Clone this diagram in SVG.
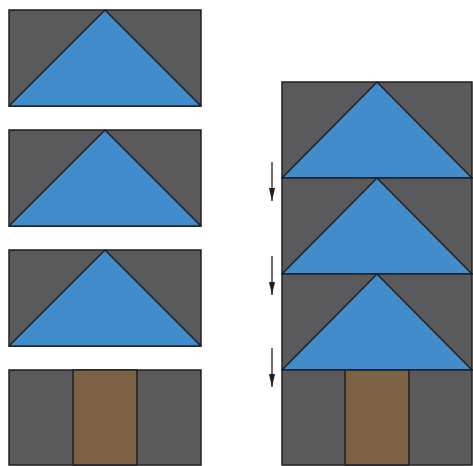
<svg xmlns="http://www.w3.org/2000/svg" width="473" height="466" viewBox="0 0 473 466">
<defs>
<style>
.g{fill:#5a5a5c;stroke:#231f20;stroke-width:1.5}
.b{fill:#418ccb;stroke:#231f20;stroke-width:1.5;stroke-linejoin:round}
.t{fill:#7d6145;stroke:#231f20;stroke-width:1.5}
.a{stroke:#231f20;stroke-width:1.3;fill:none}
</style>
<marker id="ah" viewBox="0 0 10 10" refX="10" refY="5" markerWidth="13" markerHeight="6" markerUnits="userSpaceOnUse" orient="auto" preserveAspectRatio="none">
<path d="M0,0 L10,5 L0,10 z" fill="#231f20"/>
</marker>
</defs>
<g id="block1"><rect class="g" x="9" y="10" width="192" height="96"/><polygon class="b" points="9,106 105,10 201,106"/></g>
<g id="block2"><rect class="g" x="9" y="130" width="192" height="96"/><polygon class="b" points="9,226 105,130 201,226"/></g>
<g id="block3"><rect class="g" x="9" y="250" width="192" height="96"/><polygon class="b" points="9,346 105,250 201,346"/></g>
<g id="block4"><rect class="g" x="9" y="370" width="192" height="95"/><rect class="t" x="73" y="370" width="64" height="95"/></g>
<g id="stack">
<g id="s1"><rect class="g" x="282" y="82" width="190" height="96"/><polygon class="b" points="282,178 377,82 472,178"/></g>
<g id="s2"><rect class="g" x="282" y="178" width="190" height="96"/><polygon class="b" points="282,274 377,178 472,274"/></g>
<g id="s3"><rect class="g" x="282" y="274" width="190" height="96"/><polygon class="b" points="282,370 377,274 472,370"/></g>
<g id="s4"><rect class="g" x="282" y="370" width="190" height="95"/><rect class="t" x="345" y="370" width="64" height="95"/></g>
</g>
<g id="connectors">
<line class="a" x1="272" y1="162" x2="272" y2="201" marker-end="url(#ah)"/>
<line class="a" x1="272" y1="256" x2="272" y2="295" marker-end="url(#ah)"/>
<line class="a" x1="272" y1="348" x2="272" y2="387" marker-end="url(#ah)"/>
</g>
</svg>
